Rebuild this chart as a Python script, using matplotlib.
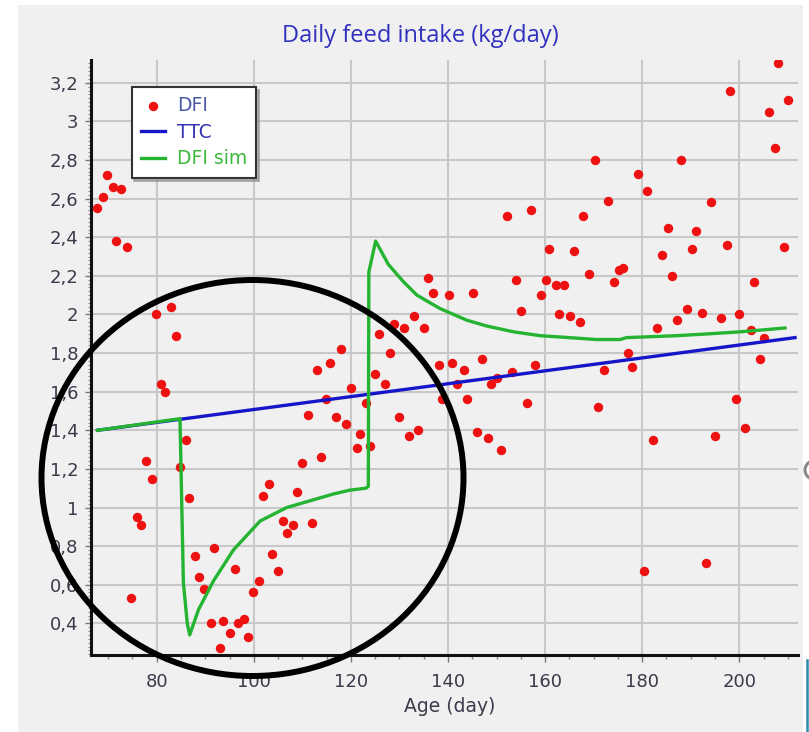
import matplotlib
matplotlib.use("Agg")
import matplotlib.pyplot as plt
from matplotlib.patches import Ellipse, Rectangle, Circle
from matplotlib.lines import Line2D
from matplotlib.ticker import MultipleLocator, FuncFormatter

# observed daily feed intake (kg/day) against age (days)
age_obs = [67.8, 68.9, 69.8, 70.9, 72.7, 71.6, 73.9, 79.9, 82.9, 84.0,
           80.9, 81.8, 86.0, 77.9, 84.7, 79.0, 86.7, 75.9, 76.7, 91.8,
           87.9, 96.1, 88.7, 89.7, 101.1, 99.8, 74.7, 91.1, 93.7, 95.0,
           96.8, 97.9, 98.9, 93.0, 101.8, 103.1, 108.8, 106.1, 108.1, 111.9,
           106.9, 103.7, 105.0, 109.9, 113.8, 111.1, 114.9, 113.0, 115.7, 118.0,
           120.0, 116.9, 118.9, 121.9, 121.2, 123.1, 123.9, 125.0, 127.0, 125.7,
           128.1, 128.9, 130.9, 133.1, 135.1, 135.8, 137.0, 140.2, 145.1, 130.0,
           132.0, 133.9, 138.2, 140.9, 143.2, 147.0, 138.8, 143.9, 141.8, 145.9,
           148.3, 150.9, 148.9, 150.0, 153.2, 156.3, 157.9, 152.1, 157.1, 160.8,
           154.0, 160.1, 159.1, 155.1, 208.0, 198.1, 210.1, 206.2, 207.4, 170.3,
           188.0, 179.1, 180.9, 172.9, 194.2, 167.9, 185.3, 191.1, 166.0, 184.1,
           190.3, 197.4, 209.3, 162.2, 164.0, 169.1, 174.2, 175.2, 176.1, 186.1,
           203.1, 162.9, 165.2, 167.2, 189.2, 192.3, 187.2, 196.2, 200.0, 183.0,
           202.4, 205.1, 204.3, 177.1, 172.2, 178.0, 171.0, 199.3, 201.2, 182.3,
           195.0, 180.4, 193.1]
dfi_obs = [2.55, 2.61, 2.72, 2.66, 2.65, 2.38, 2.35, 2.00, 2.04, 1.89,
           1.64, 1.60, 1.35, 1.24, 1.21, 1.15, 1.05, 0.95, 0.91, 0.79,
           0.75, 0.68, 0.64, 0.58, 0.62, 0.56, 0.53, 0.40, 0.41, 0.35,
           0.40, 0.42, 0.33, 0.27, 1.06, 1.12, 1.08, 0.93, 0.91, 0.92,
           0.87, 0.76, 0.67, 1.23, 1.26, 1.48, 1.56, 1.71, 1.75, 1.82,
           1.62, 1.47, 1.43, 1.38, 1.31, 1.54, 1.32, 1.69, 1.64, 1.90,
           1.80, 1.95, 1.93, 1.99, 1.93, 2.19, 2.11, 2.10, 2.11, 1.47,
           1.37, 1.40, 1.74, 1.75, 1.71, 1.77, 1.56, 1.56, 1.64, 1.39,
           1.36, 1.30, 1.64, 1.67, 1.70, 1.54, 1.74, 2.51, 2.54, 2.34,
           2.18, 2.18, 2.10, 2.02, 3.30, 3.16, 3.11, 3.05, 2.86, 2.80,
           2.80, 2.73, 2.64, 2.59, 2.58, 2.51, 2.45, 2.43, 2.33, 2.31,
           2.34, 2.36, 2.35, 2.15, 2.15, 2.21, 2.17, 2.23, 2.24, 2.20,
           2.17, 2.00, 1.99, 1.96, 2.03, 2.01, 1.97, 1.98, 2.00, 1.93,
           1.92, 1.88, 1.77, 1.80, 1.71, 1.73, 1.52, 1.56, 1.41, 1.35,
           1.37, 0.67, 0.71]

# target trajectory curve
ttc_age = [67.8, 211.5]
ttc_dfi = [1.40, 1.88]

# simulated intake
sim_age = [67.8, 84.8, 85.5, 86.3, 86.8, 88.6, 91.7, 95.8, 101.3, 106.8,
           112.3, 116.4, 119.8, 123.1, 123.6, 123.7, 125.1, 127.7, 130.8, 133.6,
           138.4, 143.9, 148.0, 153.5, 159.0, 165.0, 170.6, 175.4, 176.8, 187.1,
           194.0, 200.2, 204.9, 209.4]
sim_dfi = [1.40, 1.46, 0.61, 0.40, 0.34, 0.47, 0.62, 0.78, 0.93, 1.00,
           1.04, 1.07, 1.09, 1.10, 1.11, 2.22, 2.38, 2.26, 2.17, 2.10,
           2.03, 1.97, 1.94, 1.91, 1.89, 1.88, 1.87, 1.87, 1.88, 1.89,
           1.90, 1.91, 1.92, 1.93]

x_ticks = [80, 100, 120, 140, 160, 180, 200]
y_ticks = [0.4, 0.6, 0.8, 1.0, 1.2, 1.4, 1.6, 1.8, 2.0, 2.2, 2.4, 2.6, 2.8, 3.0, 3.2]

W, H = 809, 732
fig = plt.figure(figsize=(W / 100, H / 100), dpi=100, facecolor="white")

# grey panel behind everything
fig.add_artist(Rectangle((18 / W, 0), 785 / W, 727 / H, transform=fig.transFigure,
                         facecolor="#f0f0f0", edgecolor="none", zorder=-5))

ax = fig.add_axes([91 / W, 1 - 655 / H, 707 / W, 595 / H])
ax.set_facecolor("#f0f0f0")

ax.scatter(age_obs, dfi_obs, s=46, color="#ee1111", linewidths=0, zorder=3, label="DFI")
ax.plot(ttc_age, ttc_dfi, color="#1616c8", lw=2.4, zorder=4, label="TTC")
ax.plot(sim_age, sim_dfi, color="#25b432", lw=2.4, zorder=5, label="DFI sim")

ax.set_xlim(66.47, 212.1)
ax.set_ylim(0.236, 3.318)

for side in ["top", "right"]:
    ax.spines[side].set_visible(False)
for side in ["left", "bottom"]:
    ax.spines[side].set_linewidth(2.2)
    ax.spines[side].set_color("#111111")

ax.set_xticks(x_ticks)
ax.set_yticks(y_ticks)
ax.xaxis.set_minor_locator(MultipleLocator(5))
ax.yaxis.set_minor_locator(MultipleLocator(0.02))
ax.yaxis.set_major_formatter(FuncFormatter(lambda v, _: f"{v:g}".replace(".", ",")))

ax.tick_params(axis="x", which="major", direction="out", length=5, width=1,
               color="#777777", pad=8, labelsize=13, labelcolor="#3a3a4a")
ax.tick_params(axis="x", which="minor", direction="out", length=3, width=1, color="#888888")
ax.tick_params(axis="y", which="major", direction="out", length=4, width=1,
               color="#777777", pad=5, labelsize=13, labelcolor="#3a3a4a")
ax.tick_params(axis="y", which="minor", direction="out", length=2, width=0.8, color="#888888")

ax.grid(True, which="major", color="#c8c8c8", lw=1.5, zorder=0)
ax.set_axisbelow(True)

leg = ax.legend(loc="upper left", bbox_to_anchor=(131.7 / W, 1 - 87 / H),
                bbox_transform=fig.transFigure, borderaxespad=0, fontsize=13.5, frameon=True,
                fancybox=False, shadow={"ox": 2, "oy": -2, "color": "0.55", "alpha": 0.6},
                handlelength=1.3, handletextpad=0.6, borderpad=0.5, labelspacing=0.4,
                labelcolor=["#4b58a8", "#3535b5", "#3cb83c"])
leg.get_frame().set_facecolor("white")
leg.get_frame().set_edgecolor("#333333")
leg.get_frame().set_linewidth(1.5)
leg.get_frame().set_alpha(1)

fig.text(420 / W, 1 - 36 / H, "Daily feed intake (kg/day)", ha="center", va="center",
         fontsize=17, family="Open Sans", color="#3232c0")
fig.text(450 / W, 1 - 707 / H, "Age (day)", ha="center", va="center",
         fontsize=13.5, color="#3a3a4a")

# hand-drawn highlight ring around the dip
fig.add_artist(Ellipse((252.5 / W, 1 - 478 / H), 422 / W, 396 / H, transform=fig.transFigure,
                       fill=False, edgecolor="black", lw=4.3, zorder=10))

# window edge details
fig.add_artist(Line2D([806.5 / W, 806.5 / W], [0, 1 - 660 / H], transform=fig.transFigure,
                      color="#2b8cad", lw=1.8))
fig.add_artist(Circle((816 / W, 1 - 470 / H), 11 / W, transform=fig.transFigure,
                      fill=False, edgecolor="#8a8a8a", lw=2.2))

fig.savefig("out.png", dpi=100, facecolor=fig.get_facecolor())
